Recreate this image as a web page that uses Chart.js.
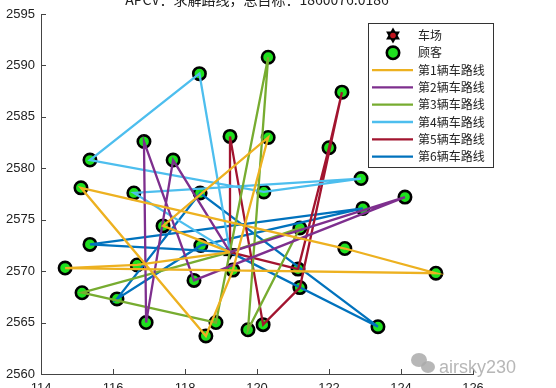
<!DOCTYPE html>
<html>
<head>
<meta charset="utf-8">
<script src="https://cdn.jsdelivr.net/npm/chart.js@4.4.1/dist/chart.umd.min.js"></script>
<style>
  html, body { margin: 0; padding: 0; background: #fff; }
  #c { display: block; }
</style>
</head>
<body>
<canvas id="c" width="556" height="388"></canvas>
<script>
// customer coordinates
const custX = [114.67, 115.11, 115.36, 115.14, 115.36, 116.11, 116.67, 116.58, 116.92, 116.86,
               117.39, 117.67, 118.25, 118.40, 118.42, 118.44, 118.58, 118.86, 119.25, 119.33,
               119.75, 120.17, 120.19, 120.31, 120.31, 121.19, 121.14, 121.19, 122.00, 122.36,
               122.44, 122.89, 122.94, 123.36, 124.11, 124.97];
const custY = [2570.3, 2578.1, 2580.8, 2567.9, 2572.6, 2567.3, 2570.6, 2577.6, 2565.0, 2582.6,
               2574.4, 2580.8, 2569.1, 2589.2, 2577.6, 2572.5, 2563.7, 2565.0, 2583.1, 2570.1,
               2564.3, 2564.8, 2577.7, 2583.0, 2590.8, 2574.2, 2570.2, 2568.4, 2582.0, 2587.4,
               2572.2, 2579.0, 2576.1, 2564.6, 2577.2, 2569.8];
const depotX = 119.25;
const depotY = 2571.85;

// routes: 0 = depot, n = customer n
const route1 = [0, 7, 1, 36, 31, 2, 17, 20, 24, 11, 0];
const route2 = [0, 12, 9, 10, 13, 35, 0];
const route3 = [0, 4, 18, 25, 21, 26, 0];
const route4 = [0, 14, 3, 23, 32, 8, 0];
const route5 = [0, 19, 22, 28, 30, 29, 27, 0];
const route6 = [0, 5, 33, 16, 6, 15, 34, 0];
const routes = [route1, route2, route3, route4, route5, route6];
const routeNames = ['第1辆车路线', '第2辆车路线', '第3辆车路线', '第4辆车路线', '第5辆车路线', '第6辆车路线'];
const routeColors = ['#EDB120', '#7E2F8E', '#77AC30', '#4DBEEE', '#A2142F', '#0072BD'];

const xTicks = [114, 116, 118, 120, 122, 124, 126];
const yTicks = [2560, 2565, 2570, 2575, 2580, 2585, 2590, 2595];

const titleText = 'APCV：求解路线，总目标：1860076.0186';

const pt = (i) => i === 0 ? { x: depotX, y: depotY } : { x: custX[i - 1], y: custY[i - 1] };

// six pointed star for the depot
const drawHexagram = (ctx, cx, cy, r) => {
    ctx.save();
    ctx.fillStyle = '#000';
    for (let k = 0; k < 2; k++) {
        ctx.beginPath();
        for (let j = 0; j < 3; j++) {
            const a = -Math.PI / 2 + k * Math.PI + j * 2 * Math.PI / 3;
            const px = cx + r * Math.cos(a), py = cy + r * Math.sin(a);
            j === 0 ? ctx.moveTo(px, py) : ctx.lineTo(px, py);
        }
        ctx.closePath();
        ctx.fill();
    }
    ctx.fillStyle = '#c0141e';
    ctx.beginPath();
    ctx.arc(cx, cy, r * 0.35, 0, Math.PI * 2);
    ctx.fill();
    ctx.restore();
};
const starImg = document.createElement('canvas');
starImg.width = 18; starImg.height = 18;
drawHexagram(starImg.getContext('2d'), 9, 9, 8);

const datasets = routes.map((r, k) => ({
    label: routeNames[k],
    data: r.map(pt),
    showLine: true,
    borderColor: routeColors[k],
    borderWidth: 2.3,
    pointRadius: 0,
    tension: 0,
    order: k
}));
datasets.push({
    label: '顾客',
    data: custX.map((x, i) => ({ x: x, y: custY[i] })),
    pointRadius: 6.2,
    pointBackgroundColor: '#1fe01f',
    pointBorderColor: '#000',
    pointBorderWidth: 2.6,
    order: 10
});
datasets.push({
    label: '车场',
    data: [{ x: depotX, y: depotY }],
    pointStyle: starImg,
    order: 11
});

// axes ticks pointing inward, legend box, cut-off title and watermark
const decor = {
    id: 'decor',
    afterDraw(chart) {
        const ctx = chart.ctx;
        const xs = chart.scales.x, ys = chart.scales.y;
        const area = chart.chartArea;
        ctx.save();
        ctx.strokeStyle = '#444';
        ctx.lineWidth = 1;
        ctx.beginPath();
        xTicks.forEach(v => {
            const px = Math.round(xs.getPixelForValue(v)) + 0.5;
            ctx.moveTo(px, area.bottom);
            ctx.lineTo(px, area.bottom - 5);
        });
        yTicks.forEach(v => {
            const py = Math.round(ys.getPixelForValue(v)) + 0.5;
            ctx.moveTo(area.left, py);
            ctx.lineTo(area.left + 5, py);
        });
        ctx.stroke();

        // title (top half is cut off in the reference)
        ctx.fillStyle = '#222';
        ctx.font = '14px "Noto Sans CJK SC", "Liberation Sans", sans-serif';
        ctx.textAlign = 'center';
        ctx.textBaseline = 'alphabetic';
        ctx.fillText(titleText, (area.left + area.right) / 2, 5);

        // legend
        const bx = 368.5, by = 23.5, bw = 125, bh = 144;
        ctx.fillStyle = '#fff';
        ctx.fillRect(bx, by, bw, bh);
        ctx.strokeStyle = '#333';
        ctx.strokeRect(bx, by, bw, bh);
        const rowY = (i) => 35.5 + i * 17.3;
        ctx.font = '12px "Noto Sans CJK SC", sans-serif';
        ctx.textAlign = 'left';
        ctx.textBaseline = 'middle';
        ctx.fillStyle = '#222';
        drawHexagram(ctx, 393, rowY(0), 8);
        ctx.fillText('车场', 418, rowY(0));
        ctx.beginPath();
        ctx.arc(393, rowY(1), 6.2, 0, Math.PI * 2);
        ctx.fillStyle = '#1fe01f';
        ctx.fill();
        ctx.lineWidth = 2.6;
        ctx.strokeStyle = '#000';
        ctx.stroke();
        ctx.fillStyle = '#222';
        ctx.fillText('顾客', 418, rowY(1));
        routeNames.forEach((name, k) => {
            const y = rowY(k + 2);
            ctx.beginPath();
            ctx.strokeStyle = routeColors[k];
            ctx.lineWidth = 2.3;
            ctx.moveTo(372, y);
            ctx.lineTo(413, y);
            ctx.stroke();
            ctx.fillStyle = '#222';
            ctx.fillText(name, 418, y);
        });

        // watermark
        ctx.fillStyle = 'rgba(170,170,170,0.85)';
        ctx.beginPath();
        ctx.ellipse(419, 360, 8, 7, 0, 0, Math.PI * 2);
        ctx.fill();
        ctx.beginPath();
        ctx.ellipse(428, 367, 7, 6, 0, 0, Math.PI * 2);
        ctx.fill();
        ctx.font = '18px "Liberation Sans", Arial, sans-serif';
        ctx.textBaseline = 'alphabetic';
        ctx.fillText('airsky230', 439, 373);
        ctx.restore();
    }
};

new Chart(document.getElementById('c'), {
    type: 'scatter',
    data: { datasets: datasets },
    options: {
        responsive: false,
        animation: false,
        events: [],
        layout: { padding: { left: 0, right: 83, top: 14, bottom: 0 } },
        plugins: { legend: { display: false }, tooltip: { enabled: false } },
        scales: {
            x: {
                type: 'linear',
                min: 114, max: 126,
                afterBuildTicks: (s) => { s.ticks = xTicks.map(v => ({ value: v })); },
                afterFit: (s) => { s.height = 14; },
                ticks: {
                    color: '#222', padding: 7,
                    font: { size: 13, family: '"Liberation Sans", Arial, sans-serif' },
                    callback: (v) => String(v)
                },
                grid: { display: false, drawTicks: false },
                border: { display: true, color: '#444', width: 1 }
            },
            y: {
                type: 'linear',
                min: 2560, max: 2595,
                afterBuildTicks: (s) => { s.ticks = yTicks.map(v => ({ value: v })); },
                afterFit: (s) => { s.width = 41; },
                ticks: {
                    color: '#222', padding: 6,
                    font: { size: 13, family: '"Liberation Sans", Arial, sans-serif' },
                    callback: (v) => String(v)
                },
                grid: { display: false, drawTicks: false },
                border: { display: true, color: '#444', width: 1 }
            }
        }
    },
    plugins: [decor]
});
</script>
</body>
</html>
